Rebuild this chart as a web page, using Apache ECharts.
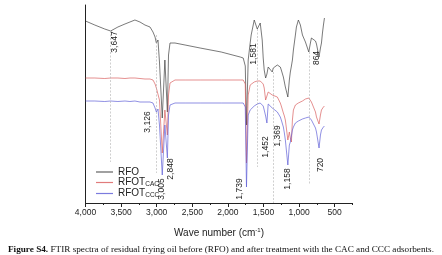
<!DOCTYPE html>
<html>
<head>
<meta charset="utf-8">
<script src="https://cdn.jsdelivr.net/npm/echarts@6/dist/echarts.min.js"></script>
<style>
  html, body { margin: 0; padding: 0; background: #fff; }
  #chart { width: 442px; height: 255px; }
</style>
</head>
<body>
<div id="chart"></div>
<script>
// wave numbers (cm-1) shared by the three spectra
const waveNumbers = [4000, 3870, 3730, 3647, 3545, 3446, 3376, 3306, 3235, 3165, 3094, 3052, 3023, 3005, 2982, 2961, 2922, 2885, 2850, 2834,
  2813, 2743, 2601, 2390, 2094, 1827, 1785, 1756, 1739, 1715, 1687, 1673, 1630, 1616, 1588, 1546, 1518, 1504, 1490, 1470,
  1452, 1434, 1406, 1377, 1363, 1349, 1306, 1264, 1250, 1221, 1207, 1193, 1158, 1137, 1123, 1108, 1094, 1080, 1052, 1038,
  1010, 982, 953, 939, 911, 864, 841, 827, 799, 770, 756, 720, 700, 686, 672, 658, 644]

// offset transmittance (arbitrary units)
const rfo = [182, 178, 174, 172, 176, 179, 181, 183, 181, 178, 176, 171, 166, 160, 163, 141, 85, 143, 91, 148,
  160, 160, 158, 155, 151, 146, 145, 137, 78, 143, 160, 168, 183, 181, 174, 180, 163, 145, 133, 125,
  129, 136, 135, 131, 135, 137, 138, 136, 133, 126, 121, 116, 106, 123, 131, 137, 143, 153, 168, 176,
  183, 178, 168, 166, 161, 151, 160, 165, 165, 162, 159, 146, 155, 160, 170, 178, 185]
const rfotCac = [125, 125, 124.5, 125, 125, 124.5, 125, 125, 124.5, 124, 124, 123, 119, 115, 117, 103, 50, 93, 68, 108,
  120, 123, 123, 123, 123, 123, 123, 119, 40, 108, 118, 119, 121, 121, 122, 122, 121, 119, 115, 103,
  101, 111, 110, 108, 107, 107, 106, 100, 97, 90, 87, 83, 63, 71, 65, 61, 83, 93, 98, 99,
  100, 101, 102, 103, 104, 105, 104, 101, 99, 91, 86, 79, 88, 93, 95, 96, 97]
const rfotCcc = [102, 102, 101.5, 102, 101.5, 102, 101.5, 102, 101, 101, 101, 100, 95, 91, 94, 78, 28, 78, 45, 88,
  98, 100, 100, 100, 100, 100, 100, 96, 16, 88, 93, 95, 97, 98, 99, 100, 99, 97, 93, 87,
  80, 99, 99, 95, 97, 96, 91, 86, 83, 76, 70, 63, 38, 58, 61, 60, 73, 76, 80, 81,
  82, 83, 84, 85, 85, 86, 85, 83, 81, 75, 71, 55, 68, 73, 75, 76, 77]

const majorTicks = [4000, 3500, 3000, 2500, 2000, 1500, 1000, 500]
const minorTicks = [3750, 3250, 2750, 2250, 1750, 1250, 750, 250]

// dashed guide lines: [wave number, from, to]
const guides = [[3647, 172, 41], [3005, 168, 30], [1581, 174, 36], [1369, 131, 0], [864, 151, 18]]
// peak annotations: [text, wave number, level]
const peakLabels = [['3,647', 3585, 161], ['3,126', 3121, 81], ['3,005', 2929, 14], ['2,848', 2802, 34],
  ['1,739', 1835, 14], ['1,581', 1636, 149], ['1,452', 1473, 56], ['1,369', 1298, 67],
  ['1,158', 1158, 24], ['864', 760, 145], ['720', 704, 38]]

const colors = ['#3a3a3a', '#d95a5a', '#5a5ad6']
const names = ['RFO', 'RFOT_CAC', 'RFOT_CCC']

const font = 'Liberation Sans, Arial, sans-serif'
const serif = 'Liberation Serif, Times New Roman, serif'
const pair = (arr) => waveNumbers.map((w, i) => [w, arr[i]])
const fmt = (v) => v.toLocaleString('en-US')

const chart = echarts.init(document.getElementById('chart'))

const line = (name, data, color, extra) => Object.assign({
  name: name,
  type: 'line',
  data: pair(data),
  showSymbol: false,
  symbol: 'none',
  silent: true,
  animation: false,
  lineStyle: { color: color, width: 0.8, opacity: 0.85 },
  itemStyle: { color: color },
}, extra || {})

const option = {
  backgroundColor: '#fff',
  title: {
    left: 3,
    top: 240,
    text: '{b|Figure S4.} FTIR spectra of residual frying oil before (RFO) and after treatment with the CAC and CCC adsorbents.',
    textStyle: {
      fontFamily: serif,
      fontSize: 9.2,
      fontWeight: 'normal',
      color: '#111',
      rich: {
        b: { fontFamily: serif, fontSize: 9.2, fontWeight: 'bold', color: '#111' },
      },
    },
  },
  legend: {
    orient: 'vertical',
    left: 91,
    top: 162,
    itemGap: 0,
    itemWidth: 17,
    itemHeight: 1.2,
    icon: 'rect',
    selectedMode: false,
    data: names.map((n, i) => ({
      name: n,
      icon: 'rect',
      itemStyle: { color: colors[i], borderWidth: 0, opacity: 0.8 },
    })),
    formatter: (n) => n === 'RFO' ? '{m|RFO}' : '{m|RFOT}{s|' + n.split('_')[1] + '}',
    textStyle: {
      fontFamily: font,
      lineHeight: 10,
      padding: [0, 0, 0, 0],
      rich: {
        m: { fontFamily: font, fontSize: 10, lineHeight: 10, color: '#222' },
        s: { fontFamily: font, fontSize: 6.5, lineHeight: 10, color: '#222', padding: [4, 0, 0, 0] },
      },
    },
  },
  grid: { left: 85.5, right: 89.5, top: 5, bottom: 52 },
  xAxis: [
    {
      type: 'value',
      min: 250,
      max: 4000,
      inverse: true,
      name: 'Wave number (cm{s|-1})',
      nameLocation: 'middle',
      nameGap: 24,
      nameTextStyle: {
        fontFamily: font,
        fontSize: 10,
        color: '#222',
        rich: { s: { fontFamily: font, fontSize: 6, color: '#222', padding: [0, 0, 7, 0] } },
      },
      splitLine: { show: false },
      axisLine: { lineStyle: { color: '#222', width: 1 } },
      axisTick: { customValues: majorTicks, length: 4, lineStyle: { color: '#222' } },
      axisLabel: {
        customValues: majorTicks,
        formatter: fmt,
        fontFamily: font,
        fontSize: 8.5,
        color: '#222',
        margin: 5,
      },
    },
    {
      type: 'value',
      min: 250,
      max: 4000,
      inverse: true,
      position: 'bottom',
      splitLine: { show: false },
      axisLine: { show: false },
      axisTick: { customValues: minorTicks, length: 2, lineStyle: { color: '#222' } },
      axisLabel: { show: false },
    },
  ],
  yAxis: {
    type: 'value',
    min: 0,
    max: 198,
    axisLine: { show: true, lineStyle: { color: '#222', width: 1 } },
    axisTick: { show: false },
    axisLabel: { show: false },
    splitLine: { show: false },
  },
  series: [
    line(names[0], rfo, colors[0], {
      markLine: {
        silent: true,
        symbol: 'none',
        animation: false,
        label: { show: false },
        lineStyle: { color: '#b0b0b0', width: 0.6, type: [2, 1.5] },
        data: guides.map((g) => [{ coord: [g[0], g[1]] }, { coord: [g[0], g[2]] }]),
      },
      markPoint: {
        silent: true,
        animation: false,
        symbol: 'circle',
        symbolSize: 1,
        itemStyle: { color: 'rgba(0,0,0,0)' },
        label: {
          show: true,
          position: 'inside',
          rotate: 90,
          formatter: '{b}',
          fontFamily: font,
          fontSize: 8.5,
          color: '#222',
        },
        data: peakLabels.map((p) => ({ name: p[0], coord: [p[1], p[2]] })),
      },
    }),
    line(names[1], rfotCac, colors[1]),
    line(names[2], rfotCcc, colors[2]),
  ],
}

chart.setOption(option)
</script>
</body>
</html>
